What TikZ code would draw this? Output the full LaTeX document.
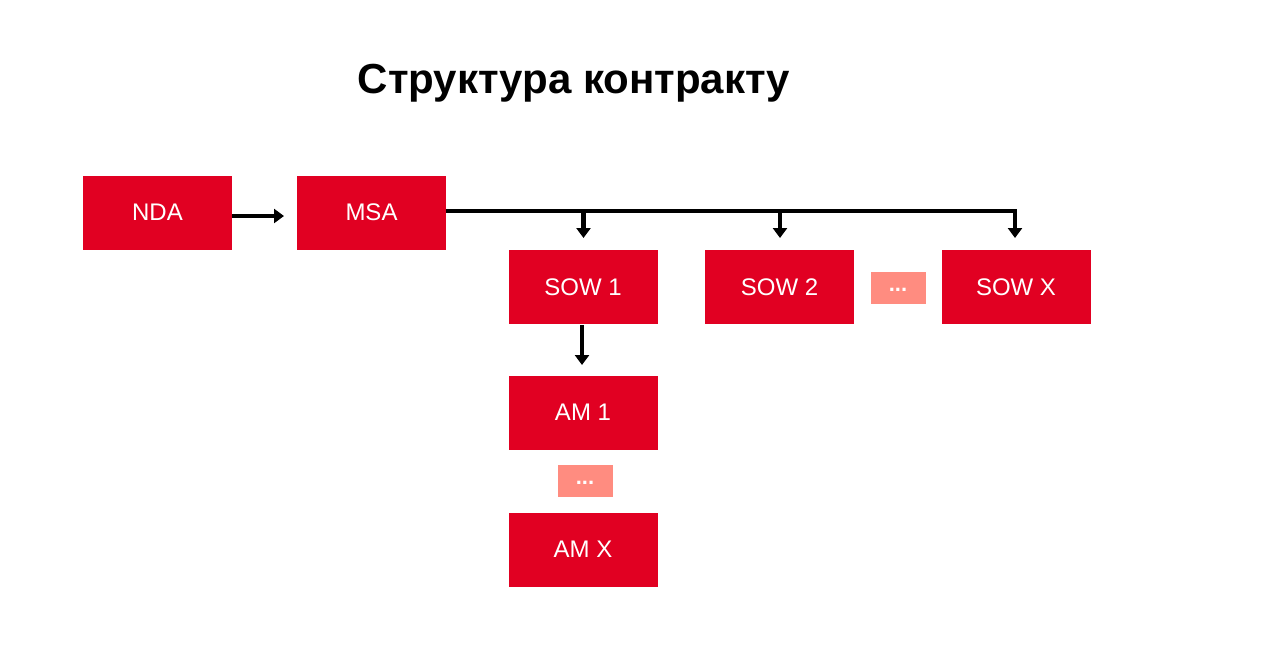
\documentclass[tikz,border=0pt]{standalone}
\usepackage{fontspec}
\setmainfont{Liberation Sans}
\usetikzlibrary{arrows.meta}
\definecolor{boxred}{HTML}{E10022}
\definecolor{dotsalmon}{HTML}{FF8C80}
\tikzset{
  redbox/.style={fill=boxred, draw=none, minimum width=149pt, minimum height=74pt, inner sep=0pt, text=white, font=\fontsize{24}{28}\selectfont},
  dotbox/.style={fill=dotsalmon, draw=none, minimum width=55pt, minimum height=32pt, inner sep=0pt, text=white, text height=7pt, text depth=0pt, font=\bfseries\fontsize{22}{24}\selectfont},
  conn/.style={line width=4.5pt, -{Triangle[length=10pt,width=14pt]}},
  plain/.style={line width=4.5pt}
}
\begin{document}
\begin{tikzpicture}[x=1pt,y=-1pt]
\useasboundingbox (0,0) rectangle (1261,651);
\node[font=\bfseries\fontsize{42}{48}\selectfont] (title) at (574,83) {Структура контракту};
\node[redbox] (nda) at (157.5,212.5) {NDA};
\node[redbox] (msa) at (371.5,212.5) {MSA};
\node[redbox] (sow1) at (583,287) {SOW 1};
\node[redbox] (sow2) at (779.5,287) {SOW 2};
\node[dotbox] (dots1) at (898,287.5) {...};
\node[redbox] (sowx) at (1016,287) {SOW X};
\node[redbox] (am1) at (583,412.5) {AM 1};
\node[dotbox] (dots2) at (585,481) {...};
\node[redbox] (amx) at (583,549.5) {AM X};
\draw[conn] (nda.east |- 0,216) -- (284,216);
\coordinate (b1) at (583.5,211);
\coordinate (b2) at (780,211);
\coordinate (bx) at (1015,211);
\draw[plain] (msa.east |- b1) -- (bx) -- ++(0,2);
\draw[conn] (b1) -- (583.5,238);
\draw[conn] (b2) -- (780,238);
\draw[conn] (bx) -- (1015,238);
\draw[conn] (sow1.south -| 582,0) ++(0,1) -- (582,365);
\end{tikzpicture}
\end{document}
